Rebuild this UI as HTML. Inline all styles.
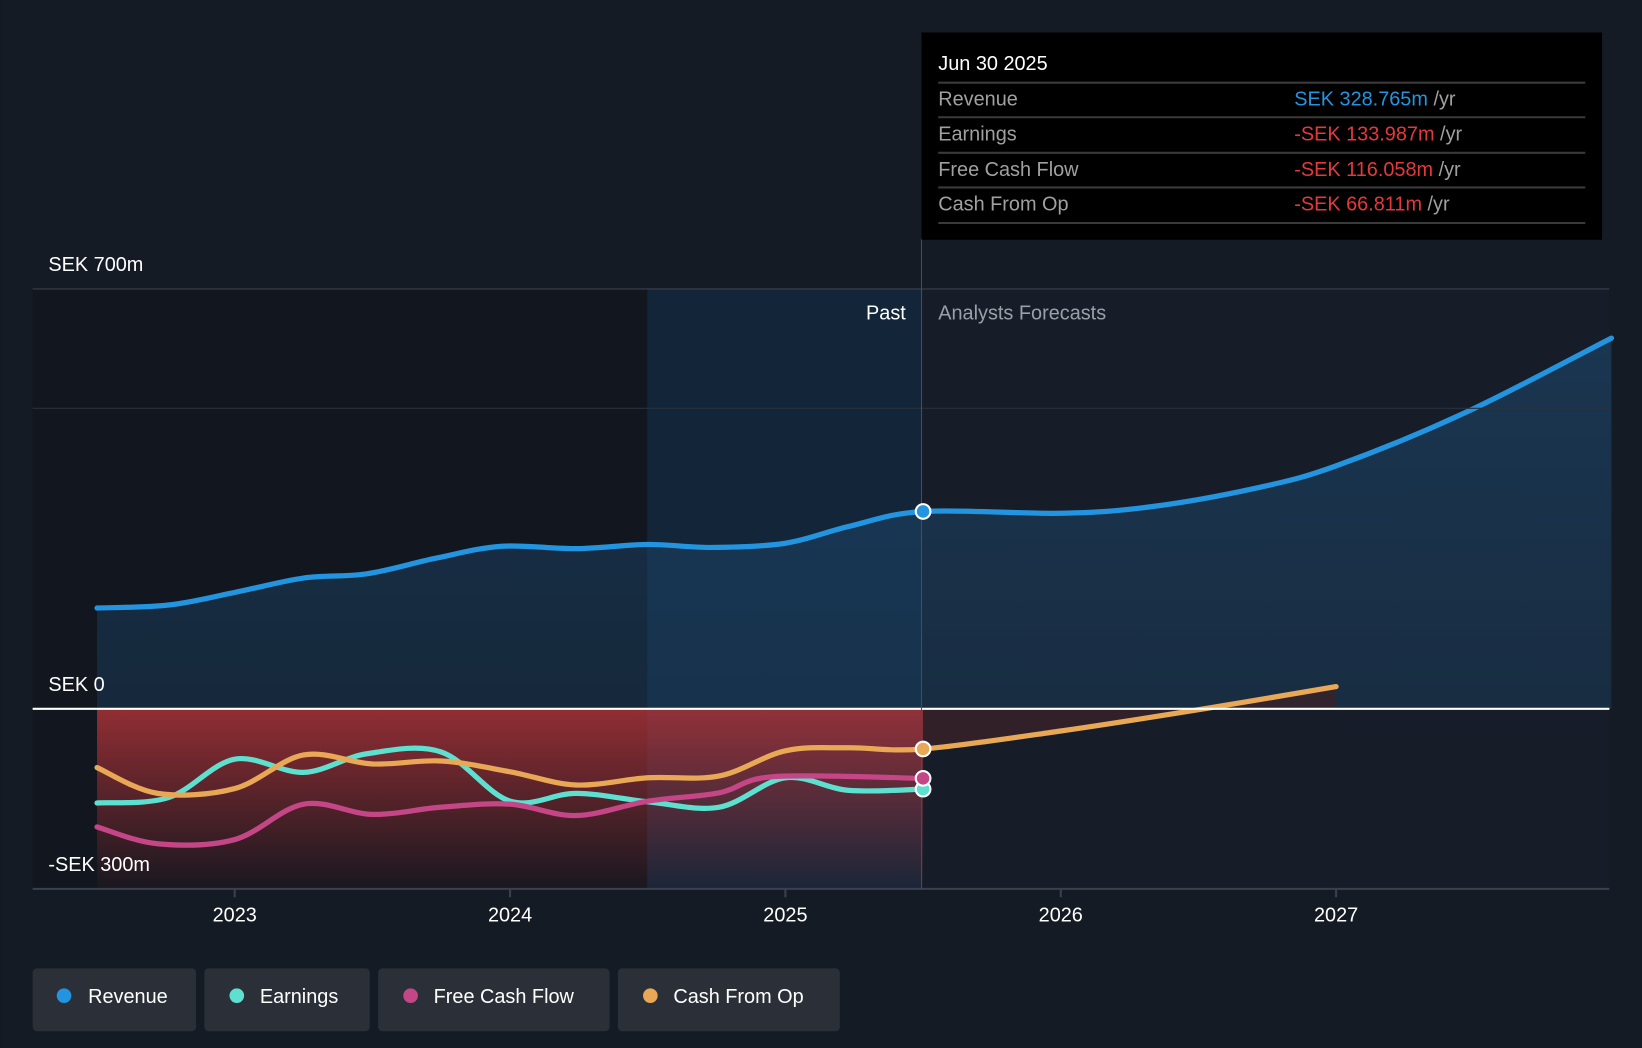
<!DOCTYPE html>
<html><head><meta charset="utf-8"><style>
html,body{margin:0;padding:0;background:#151b24;}
svg{display:block;font-family:"Liberation Sans",sans-serif;}
</style></head><body>
<svg id="c" width="1642" height="1048" viewBox="0 0 1568 1001">
<defs>
<linearGradient id="revG" x1="0" y1="0" x2="0" y2="1"><stop offset="0" stop-color="#1d4a72" stop-opacity="0.55"/><stop offset="1" stop-color="#1d4a72" stop-opacity="0.35"/></linearGradient>
<linearGradient id="negG" x1="0" y1="0" x2="0" y2="1"><stop offset="0" stop-color="#b8353a" stop-opacity="0.85"/><stop offset="1" stop-color="#b8353a" stop-opacity="0.05"/></linearGradient>
</defs>
<rect x="0" y="0" width="1568" height="1001" fill="#151b24"/>
<rect x="31" y="276" width="587" height="573" fill="#12161e"/>
<rect x="618" y="276" width="262" height="573" fill="#132538"/>
<rect x="880" y="276" width="657" height="573" fill="#161d28"/>
<g id="plot"></g>
<line x1="31" y1="276" x2="1537" y2="276" stroke="#3a414c"/>
<line x1="31" y1="390" x2="1537" y2="390" stroke="#2a313b"/>
<line x1="31" y1="677" x2="1537" y2="677" stroke="#ffffff" stroke-width="2"/>
<line x1="31" y1="849" x2="1537" y2="849" stroke="#3a414c" stroke-width="2"/>
<line x1="880" y1="228" x2="880" y2="849" stroke="#2a5578"/>
<text x="46" y="259" fill="#fff" font-size="19">SEK 700m</text>
<text x="46" y="660" fill="#fff" font-size="19">SEK 0</text>
<text x="46" y="832" fill="#fff" font-size="19">-SEK 300m</text>
<text x="865" y="305" fill="#fff" font-size="19" text-anchor="end">Past</text>
<text x="896" y="305" fill="#9aa0a8" font-size="19">Analysts Forecasts</text>
<g id="xt"></g>
<g id="dots"></g>
<g>
<rect x="880" y="31" width="650" height="198" fill="#000"/>
<text x="896" y="67" fill="#fff" font-size="19">Jun 30 2025</text>
<line x1="896" y1="79" x2="1514" y2="79" stroke="#3a3a3a" stroke-width="2"/>
<text x="896" y="101" fill="#a0a0a0" font-size="19">Revenue</text>
<text x="1236" y="101" font-size="19"><tspan fill="#2394df">SEK 328.765m</tspan><tspan fill="#a0a0a0"> /yr</tspan></text>
<line x1="896" y1="112" x2="1514" y2="112" stroke="#3a3a3a" stroke-width="2"/>
<text x="896" y="134" fill="#a0a0a0" font-size="19">Earnings</text>
<text x="1236" y="134" font-size="19"><tspan fill="#e5383b">-SEK 133.987m</tspan><tspan fill="#a0a0a0"> /yr</tspan></text>
<line x1="896" y1="146" x2="1514" y2="146" stroke="#3a3a3a" stroke-width="2"/>
<text x="896" y="168" fill="#a0a0a0" font-size="19">Free Cash Flow</text>
<text x="1236" y="168" font-size="19"><tspan fill="#e5383b">-SEK 116.058m</tspan><tspan fill="#a0a0a0"> /yr</tspan></text>
<line x1="896" y1="179" x2="1514" y2="179" stroke="#3a3a3a" stroke-width="2"/>
<text x="896" y="201" fill="#a0a0a0" font-size="19">Cash From Op</text>
<text x="1236" y="201" font-size="19"><tspan fill="#e5383b">-SEK 66.811m</tspan><tspan fill="#a0a0a0"> /yr</tspan></text>
<line x1="896" y1="213" x2="1514" y2="213" stroke="#3a3a3a" stroke-width="2"/>
</g>
<g>
<g><rect x="31" y="925" width="156" height="60" rx="4" fill="#2a2f38"/><circle cx="61" cy="951" r="7" fill="#2394df"/><text x="84" y="958" fill="#fff" font-size="19">Revenue</text></g>
<g><rect x="195" y="925" width="158" height="60" rx="4" fill="#2a2f38"/><circle cx="226" cy="951" r="7" fill="#5ee0d0"/><text x="248" y="958" fill="#fff" font-size="19">Earnings</text></g>
<g><rect x="361" y="925" width="221" height="60" rx="4" fill="#2a2f38"/><circle cx="392" cy="951" r="7" fill="#c54687"/><text x="414" y="958" fill="#fff" font-size="19">Free Cash Flow</text></g>
<g><rect x="590" y="925" width="212" height="60" rx="4" fill="#2a2f38"/><circle cx="621" cy="951" r="7" fill="#e8a856"/><text x="643" y="958" fill="#fff" font-size="19">Cash From Op</text></g>
</g>
</svg>
<script>
const revT=[2022.5,2022.76,2023,2023.25,2023.48,2023.73,2023.97,2024.24,2024.5,2024.73,2025,2025.23,2025.5,2026,2026.33,2026.71,2027,2027.47,2028];
const revV=[168,173,194,218,225,251,271,267,274,269,276,304,329,326,337,368,405,494,618];
const earnT=[2022.5,2022.76,2023,2023.25,2023.48,2023.75,2024,2024.24,2024.5,2024.76,2025,2025.23,2025.5];
const earnV=[-157,-148,-84,-106,-75,-72,-154,-141,-155,-164,-115,-136,-134];
const fcfT=[2022.5,2022.72,2023,2023.25,2023.5,2023.75,2024,2024.24,2024.5,2024.76,2024.96,2025.5];
const fcfV=[-197,-225,-218,-159,-176,-164,-159,-178,-154,-140,-113,-116];
const cfoT=[2022.5,2022.72,2023,2023.25,2023.5,2023.75,2024,2024.24,2024.5,2024.76,2025,2025.23,2025.5,2026,2026.52,2027];
const cfoV=[-98,-141,-133,-77,-92,-87,-105,-127,-115,-112,-70,-65,-67,-37,0,37];
const xTicks=[2023,2024,2025,2026,2027];
const X=t=>224+(t-2023)*263;
const Y=v=>677-v*0.5729;
const NS="http://www.w3.org/2000/svg";
function pts(T,V){return T.map((t,i)=>[X(t),Y(V[i])]);}
function path(p){let d="M"+p[0][0]+","+p[0][1];for(let i=0;i<p.length-1;i++){const p0=p[i-1]||p[i],p1=p[i],p2=p[i+1],p3=p[i+2]||p2;const k=6;d+=" C"+(p1[0]+(p2[0]-p0[0])/k)+","+(p1[1]+(p2[1]-p0[1])/k)+" "+(p2[0]-(p3[0]-p1[0])/k)+","+(p2[1]-(p3[1]-p1[1])/k)+" "+p2[0]+","+p2[1];}return d;}
const plot=document.getElementById("plot");
function mk(tag,attrs,parent){const e=document.createElementNS(NS,tag);for(const k in attrs)e.setAttribute(k,attrs[k]);(parent||plot).appendChild(e);return e;}
const rp=pts(revT,revV),ep=pts(earnT,earnV),fp=pts(fcfT,fcfV),cp=pts(cfoT,cfoV);
let a=mk("path",{d:path(rp)+" L"+rp[rp.length-1][0]+","+Y(0)+" L"+rp[0][0]+","+Y(0)+"Z",fill:"url(#revG)"});


let n=mk("path",{d:"M"+X(2022.5)+","+Y(0)+" L"+X(2025.5)+","+Y(0)+" L"+X(2025.5)+","+Y(-300)+" L"+X(2022.5)+","+Y(-300)+"Z",fill:"url(#negG)",opacity:"0.9"});


let cf=mk("path",{d:path(cp.filter(p=>p[0]>=X(2025.5)))+" L"+X(2027)+","+Y(0)+" L"+X(2025.5)+","+Y(0)+"Z",fill:"#3a2228",opacity:"0.8"});


const series=[[ep,"#5ee0d0","earnings-line"],[fp,"#c54687","free-cash-flow-line"],[cp,"#e8a856","cash-from-op-line"],[rp,"#2394df","revenue-line"]];
for(const [p,c,nm] of series){const l=mk("path",{d:path(p),fill:"none",stroke:c,"stroke-width":"5","stroke-linecap":"round"});

}
const dots=document.getElementById("dots");
const dv=[[earnV[earnV.length-1],"#5ee0d0","earnings-dot"],[fcfV[fcfV.length-1],"#c54687","fcf-dot"],[-67,"#e8a856","cfo-dot"],[329,"#2394df","revenue-dot"]];
for(const [v,c,nm] of dv){const d=mk("circle",{cx:X(2025.5),cy:Y(v),r:"7",fill:c,stroke:"#fff","stroke-width":"2"},dots);

}
const xt=document.getElementById("xt");
for(const t of xTicks){mk("line",{x1:X(t),x2:X(t),y1:849,y2:857,stroke:"#3a414c","stroke-width":"2"},xt);
const tx=mk("text",{x:X(t),y:880,fill:"#fff","font-size":"19","text-anchor":"middle"},xt);tx.textContent=t;

}
</script>
</body></html>
